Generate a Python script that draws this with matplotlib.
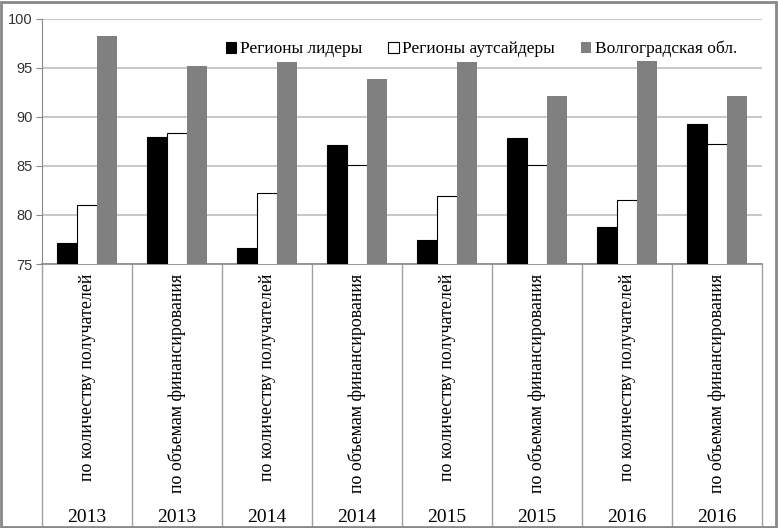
import numpy as np
import matplotlib.pyplot as plt
from matplotlib.patches import Rectangle
from matplotlib.transforms import blended_transform_factory

# данные
years = ["2013", "2013", "2014", "2014", "2015", "2015", "2016", "2016"]
kinds = ["по количеству получателей", "по объемам финансирования"] * 4
leaders = [77.1, 88.0, 76.6, 87.1, 77.4, 87.9, 78.8, 89.3]
outsiders = [81.0, 88.4, 82.2, 85.1, 81.9, 85.1, 81.5, 87.2]
volgograd = [98.3, 95.2, 95.6, 93.9, 95.6, 92.1, 95.7, 92.1]
series_names = ["Регионы лидеры", "Регионы аутсайдеры", "Волгоградская обл."]

serif = "Liberation Serif"

fig = plt.figure(figsize=(7.78, 5.28), dpi=100)
ax = fig.add_axes([42 / 778, 0.5, 720 / 778, 245 / 528])

x = np.arange(len(years))
w = 0.222
ax.bar(x - w, leaders, w, color="black", edgecolor="black", linewidth=0.8,
       label=series_names[0], zorder=3)
ax.bar(x, outsiders, w, color="white", edgecolor="black", linewidth=0.8,
       label=series_names[1], zorder=3)
ax.bar(x + w, volgograd, w, color="#808080", linewidth=0,
       label=series_names[2], zorder=3)

ax.set_ylim(75, 100)
ax.set_xlim(-0.5, len(years) - 0.5)
ax.set_yticks([75, 80, 85, 90, 95, 100])
ax.yaxis.grid(True, color="#bdbdbd", linewidth=1.2, zorder=0)
ax.set_xticks([])
ax.tick_params(axis="y", length=4, color="#888888", labelsize=10.5, pad=3)
for lab in ax.get_yticklabels():
    lab.set_fontfamily("Liberation Sans")
    lab.set_color("#333333")

for s in ["top", "right"]:
    ax.spines[s].set_visible(False)
ax.spines["left"].set_color("#888888")
ax.spines["bottom"].set_color("#888888")
ax.spines["bottom"].set_linewidth(1.2)

# подписи категорий
tr = blended_transform_factory(ax.transData, ax.transAxes)
bottom_frac = -264 / 245
for i in range(len(years) + 1):
    ax.plot([i - 0.5, i - 0.5], [0, bottom_frac], transform=tr, color="#a0a0a0",
            linewidth=1, clip_on=False)
for i in range(len(years)):
    ax.text(i, -10 / 245, kinds[i], transform=tr, rotation=90, ha="center", va="top",
            fontsize=12.9, family=serif)
    ax.text(i, -253 / 245, years[i], transform=tr, ha="center", va="center",
            fontsize=14, family=serif)

leg = ax.legend(loc="upper right", bbox_to_anchor=(0.975, 0.94), ncol=3, frameon=False,
                prop={"family": serif, "size": 12.5}, handlelength=0.6, handleheight=0.6,
                handletextpad=0.2, columnspacing=1.5, borderaxespad=0)

fig.patches.append(Rectangle((0.001, 0.002), 0.997, 0.995, transform=fig.transFigure,
                             fill=False, edgecolor="#888888", linewidth=2))

fig.savefig("out.png", dpi=100)
